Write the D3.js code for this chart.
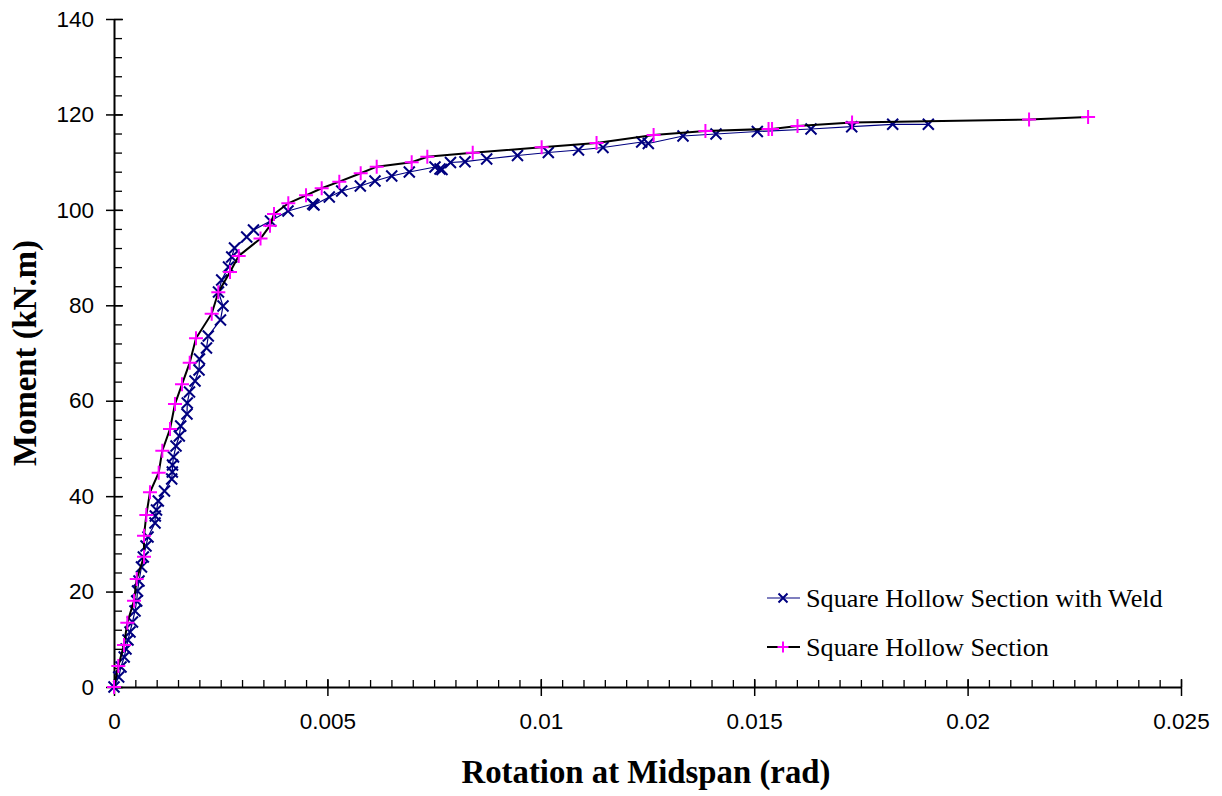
<!DOCTYPE html>
<html><head><meta charset="utf-8">
<script src="https://cdn.jsdelivr.net/npm/d3@7"></script>
<style>body{margin:0;background:#fff}</style>
</head><body><svg id="c" width="1222" height="796"></svg>
<script>
const xTicks=[0,0.005,0.01,0.015,0.02,0.025];
const xTickLabels=["0","0.005","0.01","0.015","0.02","0.025"];
const yTicks=[0,20,40,60,80,100,120,140];
const seriesNames=["Square Hollow Section with Weld","Square Hollow Section"];
const xTitle="Rotation at Midspan (rad)";
const yTitle="Moment (kN.m)";

const weldRot=[0,0.000110,0.000164,0.000239,0.000281,0.000328,0.000375,0.000433,0.000492,0.000532,0.000551,0.000586,0.000644,0.000687,0.000750,0.000797,0.000961,0.000968,0.000996,0.001038,0.001183,0.001352,0.001366,0.001371,0.001394,0.001453,0.001530,0.001563,0.001710,0.001717,0.001769,0.001898,0.001992,0.002003,0.002167,0.002209,0.002495,0.002554,0.002448,0.002523,0.002683,0.002758,0.002823,0.003109,0.003268,0.003667,0.004077,0.004656,0.004686,0.005044,0.005335,0.005771,0.006115,0.006507,0.006919,0.007521,0.007638,0.007685,0.007884,0.008224,0.008732,0.009454,0.010176,0.010883,0.011457,0.012364,0.012519,0.013332,0.014105,0.015073,0.016331,0.017285,0.018245,0.019080];
const weldMoment=[0,2.10,4.19,6.29,7.96,9.85,11.53,13.62,15.93,18.02,20.12,22.22,25.15,27.25,29.55,31.44,34.37,35.84,37.10,38.98,41.08,43.59,45.06,46.52,48.20,50.51,52.60,54.70,57.22,59.52,61.83,64.13,66.44,68.74,71.05,73.57,76.92,79.85,82.78,85.30,88.02,90.12,92.00,94.31,95.78,97.66,99.76,101.22,101.01,102.70,103.96,105.00,106.05,107.10,107.94,108.98,108.56,108.46,109.93,110.09,110.66,111.39,112.02,112.54,113.07,114.22,113.91,115.48,115.90,116.42,116.95,117.43,117.93,117.93];

const shsRot=[0,0.000101,0.000234,0.000312,0.000469,0.000532,0.000703,0.000703,0.000757,0.000843,0.001047,0.001132,0.001312,0.001429,0.001593,0.001774,0.001921,0.002289,0.002444,0.002718,0.002922,0.003433,0.003655,0.003749,0.004084,0.004499,0.004866,0.005279,0.005780,0.006155,0.006975,0.007341,0.008405,0.010020,0.011306,0.012643,0.013857,0.015336,0.015418,0.016015,0.017293,0.021440,0.022823];
const shsMoment=[0,4.40,8.80,13.48,18.09,22.64,27.31,31.71,36.05,40.81,44.92,49.53,54.07,59.31,63.44,67.97,73.08,78.24,82.72,86.98,90.33,94.00,96.68,99.13,101.38,103.05,104.52,105.91,107.67,109.05,109.97,111.14,111.98,113.11,114.02,115.69,116.53,116.95,116.95,117.58,118.31,118.94,119.46];

const svg=d3.select("#c");
const x=d3.scaleLinear().domain([0,0.025]).range([114,1181]);
const y=d3.scaleLinear().domain([0,140]).range([687,19]);

// minor ticks (inside)
const xMinor=d3.range(0,0.02501,0.0005);
const yMinor=d3.range(0,140.1,4);
svg.append("g").attr("transform","translate(0,687)")
  .call(d3.axisTop(x).tickValues(xMinor).tickSize(7).tickFormat(""))
  .call(g=>g.select(".domain").remove())
  .call(g=>g.selectAll("line").attr("stroke","#000").attr("stroke-width",1.3));
svg.append("g").attr("transform","translate(114,0)")
  .call(d3.axisRight(y).tickValues(yMinor).tickSize(8).tickFormat(""))
  .call(g=>g.select(".domain").remove())
  .call(g=>g.selectAll("line").attr("stroke","#000").attr("stroke-width",1.3));

// major axes
const gx=svg.append("g").attr("transform","translate(0,687)")
  .call(d3.axisBottom(x).tickValues(xTicks).tickSize(8).tickSizeOuter(0).tickPadding(18).tickFormat((d,i)=>xTickLabels[i]));
gx.select(".domain").attr("stroke","#000").attr("stroke-width",2);
gx.selectAll(".tick line").attr("stroke","#000").attr("stroke-width",1.5).attr("y1",-8).attr("y2",9);
gx.selectAll("text").attr("font-family","'Liberation Sans',Arial,sans-serif").attr("font-size",22.5).attr("fill","#000");

const gy=svg.append("g").attr("transform","translate(114,0)")
  .call(d3.axisLeft(y).tickValues(yTicks).tickSize(8).tickSizeOuter(0).tickPadding(12));
gy.select(".domain").attr("stroke","#000").attr("stroke-width",2);
gy.selectAll(".tick line").attr("stroke","#000").attr("stroke-width",1.5).attr("x1",9).attr("x2",-8);
gy.selectAll("text").attr("font-family","'Liberation Sans',Arial,sans-serif").attr("font-size",22.5).attr("fill","#000");

// titles
svg.append("text").attr("x",646).attr("y",783).attr("text-anchor","middle")
  .attr("font-family","'Liberation Serif','Times New Roman',serif").attr("font-weight","bold").attr("font-size",32.8).text(xTitle);
svg.append("text").attr("transform","translate(36,353) rotate(-90)").attr("text-anchor","middle")
  .attr("font-family","'Liberation Serif','Times New Roman',serif").attr("font-weight","bold").attr("font-size",32.8).text(yTitle);

const weld=weldRot.map((r,i)=>[r,weldMoment[i]]);
const shs=shsRot.map((r,i)=>[r,shsMoment[i]]);
const line=d3.line().x(d=>x(d[0])).y(d=>y(d[1]));

const xPath=s=>`M${-s},${-s}L${s},${s}M${-s},${s}L${s},${-s}`;
const pPath=s=>`M${-s},0L${s},0M0,${-s}L0,${s}`;

// weld series
svg.append("path").datum(weld).attr("d",line).attr("fill","none").attr("stroke","#000080").attr("stroke-width",1.2);
svg.append("g").selectAll("path").data(weld).join("path")
  .attr("transform",d=>`translate(${x(d[0])},${y(d[1])})`).attr("d",xPath(5.5))
  .attr("stroke","#000080").attr("stroke-width",2).attr("fill","none");

// shs series
svg.append("path").datum(shs).attr("d",line).attr("fill","none").attr("stroke","#000").attr("stroke-width",2);
svg.append("g").selectAll("path").data(shs).join("path")
  .attr("transform",d=>`translate(${x(d[0])},${y(d[1])})`).attr("d",pPath(7))
  .attr("stroke","#ff00ff").attr("stroke-width",2).attr("fill","none");

// legend
const leg=[{name:seriesNames[0],line:"#000080",lw:1.2,mk:"#000080",p:xPath(4.5),y:598},
           {name:seriesNames[1],line:"#000",lw:2,mk:"#ff00ff",p:pPath(5.5),y:647}];
const lg=svg.append("g");
leg.forEach(l=>{
  lg.append("line").attr("x1",767).attr("x2",800).attr("y1",l.y).attr("y2",l.y).attr("stroke",l.line).attr("stroke-width",l.lw);
  lg.append("path").attr("transform",`translate(783,${l.y})`).attr("d",l.p).attr("stroke",l.mk).attr("stroke-width",2).attr("fill","none");
  lg.append("text").attr("x",806).attr("y",l.y).attr("dy","0.35em")
    .attr("font-family","'Liberation Serif','Times New Roman',serif").attr("font-size",26.2).attr("fill","#000").text(l.name);
});
</script></body></html>
